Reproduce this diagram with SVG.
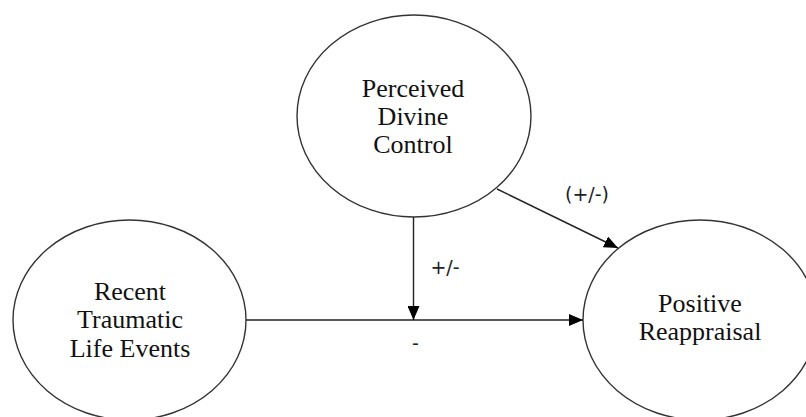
<svg xmlns="http://www.w3.org/2000/svg" width="806" height="417" viewBox="0 0 806 417">
<style>
.node{fill:#fff;stroke:#333;stroke-width:1.4}
.lbl{font-family:"Liberation Serif","Times New Roman",serif;font-size:26px;fill:#111;text-anchor:middle}
.edge{stroke:#222;stroke-width:1.4;fill:none}
.el{font-family:"DejaVu Sans","Liberation Sans",sans-serif;font-size:19px;fill:#222;text-anchor:middle}
</style>
<defs>
<marker id="ah" markerWidth="14" markerHeight="12" refX="14" refY="6" orient="auto" markerUnits="userSpaceOnUse">
<path d="M0,0 L14,6 L0,12 Z" fill="#000"/>
</marker>
</defs>
<rect width="806" height="417" fill="#fff"/>
<g id="pdc">
<ellipse class="node" cx="414" cy="116" rx="117" ry="101"/>
<text class="lbl" x="413" y="97">Perceived</text>
<text class="lbl" x="413" y="125">Divine</text>
<text class="lbl" x="413" y="153">Control</text>
</g>
<g id="rtle">
<ellipse class="node" cx="129.5" cy="320" rx="116.5" ry="100"/>
<text class="lbl" x="130" y="300">Recent</text>
<text class="lbl" x="130" y="328">Traumatic</text>
<text class="lbl" x="130" y="357">Life Events</text>
</g>
<g id="pr">
<ellipse class="node" cx="700" cy="320" rx="117" ry="100"/>
<text class="lbl" x="700" y="312">Positive</text>
<text class="lbl" x="700" y="340">Reappraisal</text>
</g>
<g id="connectors">
<line class="edge" x1="246" y1="320" x2="583" y2="320" marker-end="url(#ah)"/>
<line class="edge" x1="413.5" y1="217" x2="413.5" y2="320" marker-end="url(#ah)"/>
<line class="edge" x1="497" y1="189" x2="618" y2="248" marker-end="url(#ah)"/>
<text class="el" x="587" y="201">(+/-)</text>
<text class="el" x="445" y="274">+/-</text>
<text class="el" x="415.5" y="350">-</text>
</g>
</svg>
